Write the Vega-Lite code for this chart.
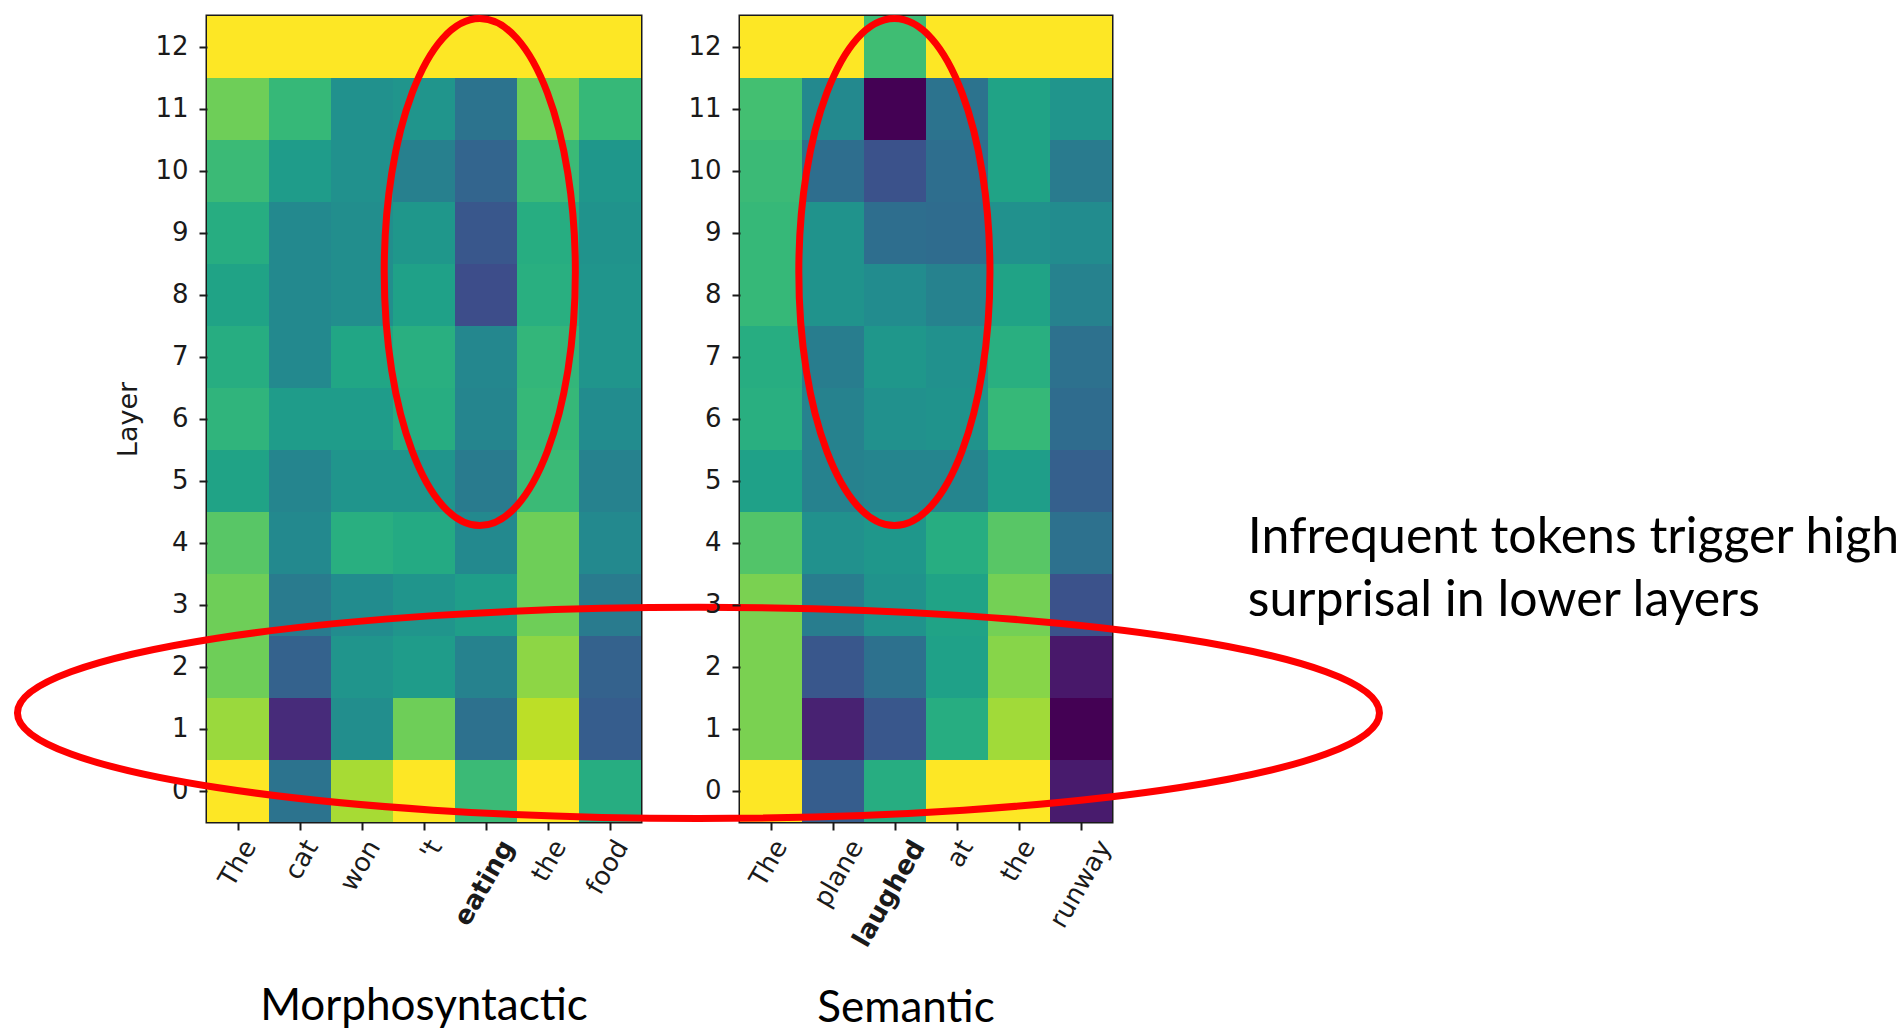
{
  "$schema": "https://vega.github.io/schema/vega-lite/v6.json",
  "background": "white",
  "padding": {"left": 1, "top": 3, "right": 5, "bottom": 0},
  "config": {
    "view": {"stroke": "#1a1a1a", "strokeWidth": 3},
    "axis": {
      "labelFont": "DejaVu Sans", "labelFontSize": 26, "labelColor": "#1a1a1a",
      "tickColor": "#1a1a1a", "tickSize": 8, "tickWidth": 2,
      "domain": false, "grid": false,
      "titleFont": "DejaVu Sans", "titleFontSize": 27, "titleFontWeight": "normal", "titleColor": "#1a1a1a"
    },
    "title": {"font": "Lato", "fontSize": 44, "fontWeight": "normal", "color": "#000000"}
  },
  "datasets": {
    "surprisal": [
      {"task":"Morphosyntactic","token":"The","pos":0,"layer":12,"value":1},
      {"task":"Morphosyntactic","token":"cat","pos":1,"layer":12,"value":1},
      {"task":"Morphosyntactic","token":"won","pos":2,"layer":12,"value":1},
      {"task":"Morphosyntactic","token":"'t","pos":3,"layer":12,"value":1},
      {"task":"Morphosyntactic","token":"eating","pos":4,"layer":12,"value":1},
      {"task":"Morphosyntactic","token":"the","pos":5,"layer":12,"value":1},
      {"task":"Morphosyntactic","token":"food","pos":6,"layer":12,"value":1},
      {"task":"Morphosyntactic","token":"The","pos":0,"layer":11,"value":0.78},
      {"task":"Morphosyntactic","token":"cat","pos":1,"layer":11,"value":0.67},
      {"task":"Morphosyntactic","token":"won","pos":2,"layer":11,"value":0.50},
      {"task":"Morphosyntactic","token":"'t","pos":3,"layer":11,"value":0.52},
      {"task":"Morphosyntactic","token":"eating","pos":4,"layer":11,"value":0.38},
      {"task":"Morphosyntactic","token":"the","pos":5,"layer":11,"value":0.78},
      {"task":"Morphosyntactic","token":"food","pos":6,"layer":11,"value":0.67},
      {"task":"Morphosyntactic","token":"The","pos":0,"layer":10,"value":0.68},
      {"task":"Morphosyntactic","token":"cat","pos":1,"layer":10,"value":0.55},
      {"task":"Morphosyntactic","token":"won","pos":2,"layer":10,"value":0.50},
      {"task":"Morphosyntactic","token":"'t","pos":3,"layer":10,"value":0.43},
      {"task":"Morphosyntactic","token":"eating","pos":4,"layer":10,"value":0.32},
      {"task":"Morphosyntactic","token":"the","pos":5,"layer":10,"value":0.68},
      {"task":"Morphosyntactic","token":"food","pos":6,"layer":10,"value":0.53},
      {"task":"Morphosyntactic","token":"The","pos":0,"layer":9,"value":0.62},
      {"task":"Morphosyntactic","token":"cat","pos":1,"layer":9,"value":0.47},
      {"task":"Morphosyntactic","token":"won","pos":2,"layer":9,"value":0.49},
      {"task":"Morphosyntactic","token":"'t","pos":3,"layer":9,"value":0.53},
      {"task":"Morphosyntactic","token":"eating","pos":4,"layer":9,"value":0.27},
      {"task":"Morphosyntactic","token":"the","pos":5,"layer":9,"value":0.62},
      {"task":"Morphosyntactic","token":"food","pos":6,"layer":9,"value":0.51},
      {"task":"Morphosyntactic","token":"The","pos":0,"layer":8,"value":0.58},
      {"task":"Morphosyntactic","token":"cat","pos":1,"layer":8,"value":0.47},
      {"task":"Morphosyntactic","token":"won","pos":2,"layer":8,"value":0.49},
      {"task":"Morphosyntactic","token":"'t","pos":3,"layer":8,"value":0.57},
      {"task":"Morphosyntactic","token":"eating","pos":4,"layer":8,"value":0.23},
      {"task":"Morphosyntactic","token":"the","pos":5,"layer":8,"value":0.63},
      {"task":"Morphosyntactic","token":"food","pos":6,"layer":8,"value":0.52},
      {"task":"Morphosyntactic","token":"The","pos":0,"layer":7,"value":0.62},
      {"task":"Morphosyntactic","token":"cat","pos":1,"layer":7,"value":0.47},
      {"task":"Morphosyntactic","token":"won","pos":2,"layer":7,"value":0.59},
      {"task":"Morphosyntactic","token":"'t","pos":3,"layer":7,"value":0.63},
      {"task":"Morphosyntactic","token":"eating","pos":4,"layer":7,"value":0.46},
      {"task":"Morphosyntactic","token":"the","pos":5,"layer":7,"value":0.66},
      {"task":"Morphosyntactic","token":"food","pos":6,"layer":7,"value":0.52},
      {"task":"Morphosyntactic","token":"The","pos":0,"layer":6,"value":0.65},
      {"task":"Morphosyntactic","token":"cat","pos":1,"layer":6,"value":0.55},
      {"task":"Morphosyntactic","token":"won","pos":2,"layer":6,"value":0.55},
      {"task":"Morphosyntactic","token":"'t","pos":3,"layer":6,"value":0.62},
      {"task":"Morphosyntactic","token":"eating","pos":4,"layer":6,"value":0.45},
      {"task":"Morphosyntactic","token":"the","pos":5,"layer":6,"value":0.67},
      {"task":"Morphosyntactic","token":"food","pos":6,"layer":6,"value":0.48},
      {"task":"Morphosyntactic","token":"The","pos":0,"layer":5,"value":0.58},
      {"task":"Morphosyntactic","token":"cat","pos":1,"layer":5,"value":0.45},
      {"task":"Morphosyntactic","token":"won","pos":2,"layer":5,"value":0.52},
      {"task":"Morphosyntactic","token":"'t","pos":3,"layer":5,"value":0.52},
      {"task":"Morphosyntactic","token":"eating","pos":4,"layer":5,"value":0.41},
      {"task":"Morphosyntactic","token":"the","pos":5,"layer":5,"value":0.68},
      {"task":"Morphosyntactic","token":"food","pos":6,"layer":5,"value":0.44},
      {"task":"Morphosyntactic","token":"The","pos":0,"layer":4,"value":0.74},
      {"task":"Morphosyntactic","token":"cat","pos":1,"layer":4,"value":0.47},
      {"task":"Morphosyntactic","token":"won","pos":2,"layer":4,"value":0.63},
      {"task":"Morphosyntactic","token":"'t","pos":3,"layer":4,"value":0.61},
      {"task":"Morphosyntactic","token":"eating","pos":4,"layer":4,"value":0.47},
      {"task":"Morphosyntactic","token":"the","pos":5,"layer":4,"value":0.78},
      {"task":"Morphosyntactic","token":"food","pos":6,"layer":4,"value":0.47},
      {"task":"Morphosyntactic","token":"The","pos":0,"layer":3,"value":0.78},
      {"task":"Morphosyntactic","token":"cat","pos":1,"layer":3,"value":0.41},
      {"task":"Morphosyntactic","token":"won","pos":2,"layer":3,"value":0.48},
      {"task":"Morphosyntactic","token":"'t","pos":3,"layer":3,"value":0.52},
      {"task":"Morphosyntactic","token":"eating","pos":4,"layer":3,"value":0.56},
      {"task":"Morphosyntactic","token":"the","pos":5,"layer":3,"value":0.78},
      {"task":"Morphosyntactic","token":"food","pos":6,"layer":3,"value":0.41},
      {"task":"Morphosyntactic","token":"The","pos":0,"layer":2,"value":0.78},
      {"task":"Morphosyntactic","token":"cat","pos":1,"layer":2,"value":0.31},
      {"task":"Morphosyntactic","token":"won","pos":2,"layer":2,"value":0.52},
      {"task":"Morphosyntactic","token":"'t","pos":3,"layer":2,"value":0.55},
      {"task":"Morphosyntactic","token":"eating","pos":4,"layer":2,"value":0.44},
      {"task":"Morphosyntactic","token":"the","pos":5,"layer":2,"value":0.83},
      {"task":"Morphosyntactic","token":"food","pos":6,"layer":2,"value":0.31},
      {"task":"Morphosyntactic","token":"The","pos":0,"layer":1,"value":0.85},
      {"task":"Morphosyntactic","token":"cat","pos":1,"layer":1,"value":0.12},
      {"task":"Morphosyntactic","token":"won","pos":2,"layer":1,"value":0.49},
      {"task":"Morphosyntactic","token":"'t","pos":3,"layer":1,"value":0.78},
      {"task":"Morphosyntactic","token":"eating","pos":4,"layer":1,"value":0.37},
      {"task":"Morphosyntactic","token":"the","pos":5,"layer":1,"value":0.90},
      {"task":"Morphosyntactic","token":"food","pos":6,"layer":1,"value":0.29},
      {"task":"Morphosyntactic","token":"The","pos":0,"layer":0,"value":1},
      {"task":"Morphosyntactic","token":"cat","pos":1,"layer":0,"value":0.38},
      {"task":"Morphosyntactic","token":"won","pos":2,"layer":0,"value":0.87},
      {"task":"Morphosyntactic","token":"'t","pos":3,"layer":0,"value":1},
      {"task":"Morphosyntactic","token":"eating","pos":4,"layer":0,"value":0.68},
      {"task":"Morphosyntactic","token":"the","pos":5,"layer":0,"value":1},
      {"task":"Morphosyntactic","token":"food","pos":6,"layer":0,"value":0.62},
      {"task":"Semantic","token":"The","pos":0,"layer":12,"value":1},
      {"task":"Semantic","token":"plane","pos":1,"layer":12,"value":1},
      {"task":"Semantic","token":"laughed","pos":2,"layer":12,"value":0.69},
      {"task":"Semantic","token":"at","pos":3,"layer":12,"value":1},
      {"task":"Semantic","token":"the","pos":4,"layer":12,"value":1},
      {"task":"Semantic","token":"runway","pos":5,"layer":12,"value":1},
      {"task":"Semantic","token":"The","pos":0,"layer":11,"value":0.70},
      {"task":"Semantic","token":"plane","pos":1,"layer":11,"value":0.47},
      {"task":"Semantic","token":"laughed","pos":2,"layer":11,"value":0.0},
      {"task":"Semantic","token":"at","pos":3,"layer":11,"value":0.38},
      {"task":"Semantic","token":"the","pos":4,"layer":11,"value":0.58},
      {"task":"Semantic","token":"runway","pos":5,"layer":11,"value":0.52},
      {"task":"Semantic","token":"The","pos":0,"layer":10,"value":0.68},
      {"task":"Semantic","token":"plane","pos":1,"layer":10,"value":0.36},
      {"task":"Semantic","token":"laughed","pos":2,"layer":10,"value":0.25},
      {"task":"Semantic","token":"at","pos":3,"layer":10,"value":0.36},
      {"task":"Semantic","token":"the","pos":4,"layer":10,"value":0.58},
      {"task":"Semantic","token":"runway","pos":5,"layer":10,"value":0.41},
      {"task":"Semantic","token":"The","pos":0,"layer":9,"value":0.67},
      {"task":"Semantic","token":"plane","pos":1,"layer":9,"value":0.51},
      {"task":"Semantic","token":"laughed","pos":2,"layer":9,"value":0.36},
      {"task":"Semantic","token":"at","pos":3,"layer":9,"value":0.35},
      {"task":"Semantic","token":"the","pos":4,"layer":9,"value":0.50},
      {"task":"Semantic","token":"runway","pos":5,"layer":9,"value":0.48},
      {"task":"Semantic","token":"The","pos":0,"layer":8,"value":0.67},
      {"task":"Semantic","token":"plane","pos":1,"layer":8,"value":0.51},
      {"task":"Semantic","token":"laughed","pos":2,"layer":8,"value":0.48},
      {"task":"Semantic","token":"at","pos":3,"layer":8,"value":0.44},
      {"task":"Semantic","token":"the","pos":4,"layer":8,"value":0.58},
      {"task":"Semantic","token":"runway","pos":5,"layer":8,"value":0.44},
      {"task":"Semantic","token":"The","pos":0,"layer":7,"value":0.62},
      {"task":"Semantic","token":"plane","pos":1,"layer":7,"value":0.42},
      {"task":"Semantic","token":"laughed","pos":2,"layer":7,"value":0.53},
      {"task":"Semantic","token":"at","pos":3,"layer":7,"value":0.50},
      {"task":"Semantic","token":"the","pos":4,"layer":7,"value":0.63},
      {"task":"Semantic","token":"runway","pos":5,"layer":7,"value":0.37},
      {"task":"Semantic","token":"The","pos":0,"layer":6,"value":0.63},
      {"task":"Semantic","token":"plane","pos":1,"layer":6,"value":0.44},
      {"task":"Semantic","token":"laughed","pos":2,"layer":6,"value":0.50},
      {"task":"Semantic","token":"at","pos":3,"layer":6,"value":0.51},
      {"task":"Semantic","token":"the","pos":4,"layer":6,"value":0.67},
      {"task":"Semantic","token":"runway","pos":5,"layer":6,"value":0.35},
      {"task":"Semantic","token":"The","pos":0,"layer":5,"value":0.57},
      {"task":"Semantic","token":"plane","pos":1,"layer":5,"value":0.44},
      {"task":"Semantic","token":"laughed","pos":2,"layer":5,"value":0.45},
      {"task":"Semantic","token":"at","pos":3,"layer":5,"value":0.45},
      {"task":"Semantic","token":"the","pos":4,"layer":5,"value":0.56},
      {"task":"Semantic","token":"runway","pos":5,"layer":5,"value":0.30},
      {"task":"Semantic","token":"The","pos":0,"layer":4,"value":0.73},
      {"task":"Semantic","token":"plane","pos":1,"layer":4,"value":0.50},
      {"task":"Semantic","token":"laughed","pos":2,"layer":4,"value":0.53},
      {"task":"Semantic","token":"at","pos":3,"layer":4,"value":0.62},
      {"task":"Semantic","token":"the","pos":4,"layer":4,"value":0.74},
      {"task":"Semantic","token":"runway","pos":5,"layer":4,"value":0.37},
      {"task":"Semantic","token":"The","pos":0,"layer":3,"value":0.80},
      {"task":"Semantic","token":"plane","pos":1,"layer":3,"value":0.42},
      {"task":"Semantic","token":"laughed","pos":2,"layer":3,"value":0.51},
      {"task":"Semantic","token":"at","pos":3,"layer":3,"value":0.58},
      {"task":"Semantic","token":"the","pos":4,"layer":3,"value":0.79},
      {"task":"Semantic","token":"runway","pos":5,"layer":3,"value":0.25},
      {"task":"Semantic","token":"The","pos":0,"layer":2,"value":0.80},
      {"task":"Semantic","token":"plane","pos":1,"layer":2,"value":0.27},
      {"task":"Semantic","token":"laughed","pos":2,"layer":2,"value":0.37},
      {"task":"Semantic","token":"at","pos":3,"layer":2,"value":0.57},
      {"task":"Semantic","token":"the","pos":4,"layer":2,"value":0.82},
      {"task":"Semantic","token":"runway","pos":5,"layer":2,"value":0.06},
      {"task":"Semantic","token":"The","pos":0,"layer":1,"value":0.80},
      {"task":"Semantic","token":"plane","pos":1,"layer":1,"value":0.09},
      {"task":"Semantic","token":"laughed","pos":2,"layer":1,"value":0.27},
      {"task":"Semantic","token":"at","pos":3,"layer":1,"value":0.62},
      {"task":"Semantic","token":"the","pos":4,"layer":1,"value":0.86},
      {"task":"Semantic","token":"runway","pos":5,"layer":1,"value":0.0},
      {"task":"Semantic","token":"The","pos":0,"layer":0,"value":1},
      {"task":"Semantic","token":"plane","pos":1,"layer":0,"value":0.29},
      {"task":"Semantic","token":"laughed","pos":2,"layer":0,"value":0.62},
      {"task":"Semantic","token":"at","pos":3,"layer":0,"value":1},
      {"task":"Semantic","token":"the","pos":4,"layer":0,"value":1},
      {"task":"Semantic","token":"runway","pos":5,"layer":0,"value":0.07}
    ],
    "highlights": [
      {"task":"Morphosyntactic","target":"eating","kind":"vertical","token_index":4.40,"layer":8.37},
      {"task":"Semantic","target":"laughed","kind":"vertical","token_index":2.49,"layer":8.37},
      {"task":"Semantic","target":"lower layers","kind":"horizontal","token_index":-0.67,"layer":1.26}
    ],
    "notes": [
      {"lines":["Infrequent tokens trigger high","surprisal in lower layers"],"token_index":8.19,"layer":3.84}
    ]
  },
  "spacing": 99,
  "bounds": "flush",
  "hconcat": [
    {
      "width": 434,
      "height": 806,
      "title": {"text": "Morphosyntactic", "orient": "bottom", "anchor": "middle", "frame": "group", "offset": 55},
      "layer": [
        {
          "data": {"name": "surprisal"},
          "transform": [{"filter": "datum.task === 'Morphosyntactic'"}],
          "mark": {"type": "rect"},
          "encoding": {
            "x": {"field": "token", "type": "ordinal", "sort": {"field": "pos", "op": "min"},
              "scale": {"paddingInner": 0, "paddingOuter": 0},
              "axis": {"title": null, "labelAngle": -60, "labelAlign": "right", "labelBaseline": "middle", "labelPadding": 12,
                "labelOffset": {"condition": {"test": "datum.value === 'eating'", "value": 22}, "value": 12},
                "labelFontWeight": {"condition": {"test": "datum.value === 'eating'", "value": "bold"}, "value": "normal"}}},
            "y": {"field": "layer", "type": "ordinal", "sort": "descending",
              "scale": {"paddingInner": 0, "paddingOuter": 0},
              "axis": {"title": "Layer", "labelPadding": 11, "titlePadding": 12}},
            "color": {"field": "value", "type": "quantitative", "scale": {"scheme": "viridis", "domain": [0, 1]}, "legend": null}
          }
        },
        {
          "data": {"name": "highlights"},
          "transform": [{"filter": "datum.task === 'Morphosyntactic'"}],
          "mark": {"type": "point", "shape": "M 0 -1 C 0.208 -1 0.377 -0.5523 0.377 0 C 0.377 0.5523 0.208 1 0 1 C -0.208 1 -0.377 0.5523 -0.377 0 C -0.377 -0.5523 -0.208 -1 0 -1 Z", "size": 257049, "filled": false, "color": "#ff0000", "strokeWidth": 7, "opacity": 1},
          "encoding": {
            "x": {"field": "token_index", "type": "quantitative", "scale": {"domain": [0, 7], "nice": false, "zero": false}, "axis": null},
            "y": {"field": "layer", "type": "quantitative", "scale": {"domain": [-0.5, 12.5], "nice": false, "zero": false}, "axis": null}
          }
        }
      ],
      "resolve": {"scale": {"x": "independent", "y": "independent", "color": "independent"}}
    },
    {
      "width": 372,
      "height": 806,
      "title": {"text": "Semantic", "orient": "bottom", "anchor": "middle", "frame": "group", "offset": 36, "dx": -20},
      "layer": [
        {
          "data": {"name": "surprisal"},
          "transform": [{"filter": "datum.task === 'Semantic'"}],
          "mark": {"type": "rect"},
          "encoding": {
            "x": {"field": "token", "type": "ordinal", "sort": {"field": "pos", "op": "min"},
              "scale": {"paddingInner": 0, "paddingOuter": 0},
              "axis": {"title": null, "labelAngle": -60, "labelAlign": "right", "labelBaseline": "middle", "labelPadding": 12,
                "labelOffset": {"condition": {"test": "datum.value === 'laughed' || datum.value === 'runway' || datum.value === 'plane'", "value": 24}, "value": 10},
                "labelFontWeight": {"condition": {"test": "datum.value === 'laughed'", "value": "bold"}, "value": "normal"}}},
            "y": {"field": "layer", "type": "ordinal", "sort": "descending",
              "scale": {"paddingInner": 0, "paddingOuter": 0},
              "axis": {"title": null, "labelPadding": 11}},
            "color": {"field": "value", "type": "quantitative", "scale": {"scheme": "viridis", "domain": [0, 1]}, "legend": null}
          }
        },
        {
          "data": {"name": "highlights"},
          "transform": [{"filter": "datum.task === 'Semantic' && datum.kind === 'vertical'"}],
          "mark": {"type": "point", "shape": "M 0 -1 C 0.208 -1 0.377 -0.5523 0.377 0 C 0.377 0.5523 0.208 1 0 1 C -0.208 1 -0.377 0.5523 -0.377 0 C -0.377 -0.5523 -0.208 -1 0 -1 Z", "size": 257049, "filled": false, "color": "#ff0000", "strokeWidth": 7, "opacity": 1},
          "encoding": {
            "x": {"field": "token_index", "type": "quantitative", "scale": {"domain": [0, 6], "nice": false, "zero": false}, "axis": null},
            "y": {"field": "layer", "type": "quantitative", "scale": {"domain": [-0.5, 12.5], "nice": false, "zero": false}, "axis": null}
          }
        },
        {
          "data": {"name": "highlights"},
          "transform": [{"filter": "datum.kind === 'horizontal'"}],
          "mark": {"type": "point", "shape": "M -1 0 C -1 -0.0856 -0.5523 -0.155 0 -0.155 C 0.5523 -0.155 1 -0.0856 1 0 C 1 0.0856 0.5523 0.155 0 0.155 C -0.5523 0.155 -1 0.0856 -1 0 Z", "size": 1855044, "filled": false, "color": "#ff0000", "strokeWidth": 7, "opacity": 1},
          "encoding": {
            "x": {"field": "token_index", "type": "quantitative", "scale": {"domain": [0, 6], "nice": false, "zero": false}, "axis": null},
            "y": {"field": "layer", "type": "quantitative", "scale": {"domain": [-0.5, 12.5], "nice": false, "zero": false}, "axis": null}
          }
        },
        {
          "data": {"name": "notes"},
          "mark": {"type": "text", "font": "Lato", "fontSize": 50, "align": "left", "baseline": "alphabetic", "lineHeight": 63, "color": "#000000"},
          "encoding": {
            "text": {"field": "lines", "type": "nominal"},
            "x": {"field": "token_index", "type": "quantitative", "scale": {"domain": [0, 6], "nice": false, "zero": false}, "axis": null},
            "y": {"field": "layer", "type": "quantitative", "scale": {"domain": [-0.5, 12.5], "nice": false, "zero": false}, "axis": null}
          }
        }
      ],
      "resolve": {"scale": {"x": "independent", "y": "independent", "color": "independent"}}
    }
  ]
}
